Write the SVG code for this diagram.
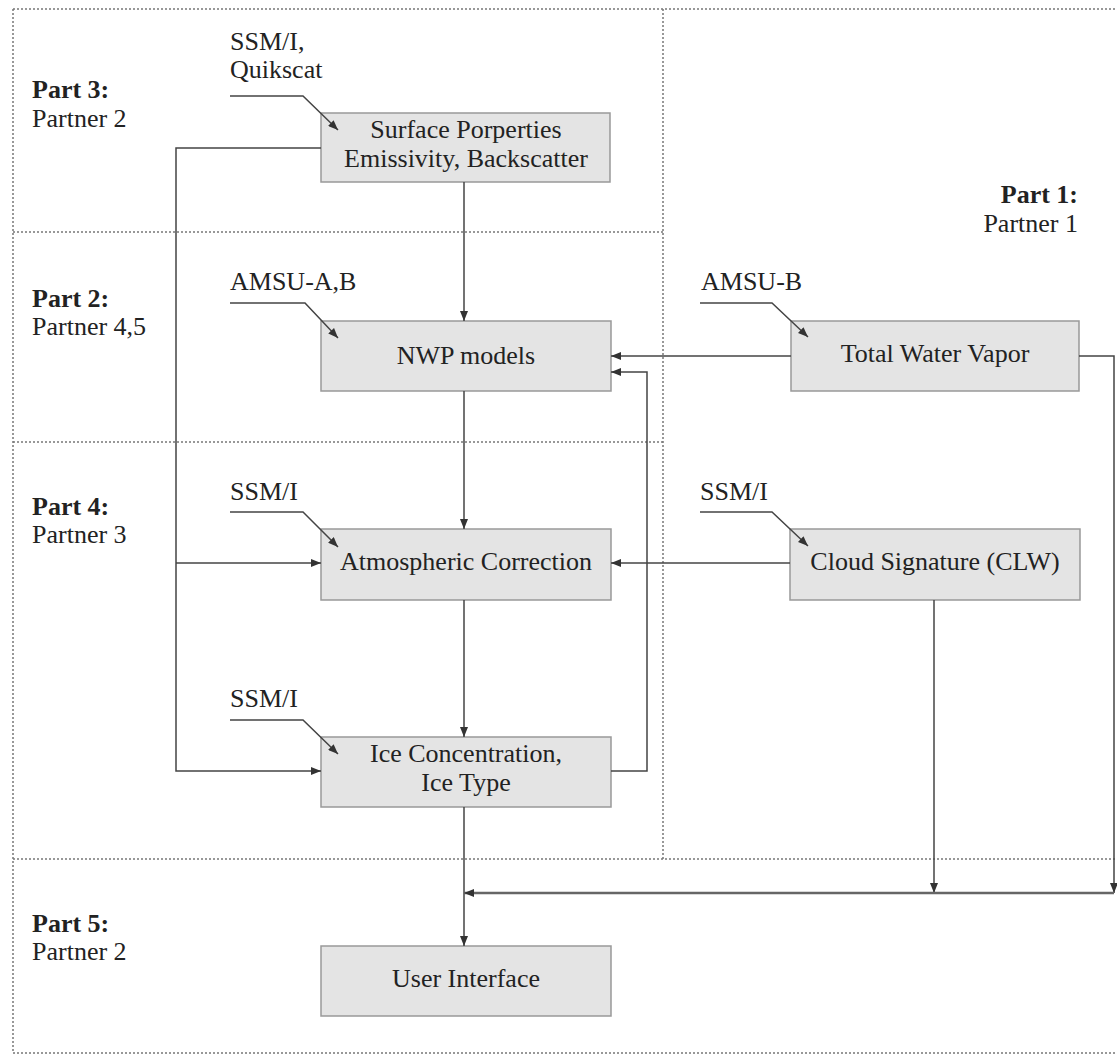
<svg xmlns="http://www.w3.org/2000/svg" width="1117" height="1064" viewBox="0 0 1117 1064">
<defs>
<marker id="ah" markerUnits="userSpaceOnUse" markerWidth="10" markerHeight="8" refX="10" refY="4" orient="auto">
<path d="M0,0 L10,4 L0,8 z" fill="#333"/>
</marker>
<style>
.div{fill:none;stroke:#777;stroke-width:1.5;stroke-dasharray:2 2}
.box{fill:#e4e4e4;stroke:#999;stroke-width:1.5}
.c{fill:none;stroke:#444;stroke-width:1.5}
.bus{fill:none;stroke:#666;stroke-width:2.5}
.a{marker-end:url(#ah)}
text{font-family:"Liberation Serif","Times New Roman",serif;font-size:26px;fill:#222}
.b{font-weight:bold}
.m{text-anchor:middle}
.r{text-anchor:end}
</style>
</defs>
<rect width="1117" height="1064" fill="#fff"/>
<g id="dividers">
<path class="div" d="M13,9 H1117 M13,9 V1053 H1117 M663,9 V859 M13,232 H663 M13,442 H663 M13,859 H1117"/>
</g>
<g id="labels">
<text class="b" x="32" y="98">Part 3:</text>
<text x="32" y="127">Partner 2</text>
<text class="b" x="32" y="307">Part 2:</text>
<text x="32" y="335">Partner 4,5</text>
<text class="b" x="32" y="515">Part 4:</text>
<text x="32" y="543">Partner 3</text>
<text class="b" x="32" y="932">Part 5:</text>
<text x="32" y="960">Partner 2</text>
<text class="b r" x="1078" y="203">Part 1:</text>
<text class="r" x="1078" y="232">Partner 1</text>
<text x="230" y="50">SSM/I,</text>
<text x="230" y="78">Quikscat</text>
<text x="230" y="290">AMSU-A,B</text>
<text x="230" y="500">SSM/I</text>
<text x="230" y="707">SSM/I</text>
<text x="701" y="290">AMSU-B</text>
<text x="700" y="500">SSM/I</text>
</g>
<g id="surface">
<rect class="box" x="321" y="113" width="289" height="69"/>
<text class="m" x="466" y="138">Surface Porperties</text>
<text class="m" x="466" y="167">Emissivity, Backscatter</text>
</g>
<g id="nwp">
<rect class="box" x="321" y="321" width="290" height="70"/>
<text class="m" x="466" y="364">NWP models</text>
</g>
<g id="atmos">
<rect class="box" x="321" y="529" width="290" height="71"/>
<text class="m" x="466" y="570">Atmospheric Correction</text>
</g>
<g id="ice">
<rect class="box" x="321" y="737" width="290" height="70"/>
<text class="m" x="466" y="762">Ice Concentration,</text>
<text class="m" x="466" y="791">Ice Type</text>
</g>
<g id="ui">
<rect class="box" x="321" y="946" width="290" height="70"/>
<text class="m" x="466" y="987">User Interface</text>
</g>
<g id="twv">
<rect class="box" x="791" y="321" width="288" height="70"/>
<text class="m" x="935" y="362">Total Water Vapor</text>
</g>
<g id="cloud">
<rect class="box" x="790" y="529" width="290" height="71"/>
<text class="m" x="935" y="570">Cloud Signature (CLW)</text>
</g>
<g id="connectors">
<path class="c a" d="M230,96 H303 L338,130"/>
<path class="c a" d="M230,303 H305 L338,338"/>
<path class="c a" d="M230,512 H303 L338,547"/>
<path class="c a" d="M230,720 H303 L338,754"/>
<path class="c a" d="M700,303 H772 L808,337"/>
<path class="c a" d="M700,512 H772 L808,546"/>
<path class="c a" d="M464,182 V321"/>
<path class="c a" d="M464,391 V529"/>
<path class="c a" d="M464,600 V737"/>
<path class="c a" d="M464,807 V946"/>
<path class="c a" d="M321,148 H176 V771 H321"/>
<path class="c a" d="M176,563 H321"/>
<path class="c a" d="M791,356 H611"/>
<path class="c a" d="M790,563 H611"/>
<path class="c a" d="M611,771 H647 V372 H611"/>
<path class="c a" d="M1079,356 H1114 V893"/>
<path class="c a" d="M934,600 V893"/>
<path class="bus a" d="M1114,893 H464"/>
</g>
</svg>
